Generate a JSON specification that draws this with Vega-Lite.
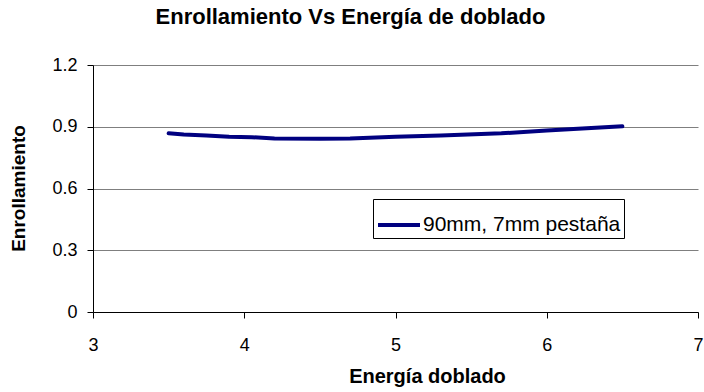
{
  "$schema": "https://vega.github.io/schema/vega-lite/v6.json",
  "autosize": "none",
  "width": 605,
  "height": 247,
  "padding": {"left": 93, "top": 65, "right": 6, "bottom": 80},
  "background": "white",
  "config": {
    "view": {"stroke": null},
    "font": "Liberation Sans"
  },
  "title": {
    "text": "Enrollamiento Vs Energía de doblado",
    "font": "Liberation Sans",
    "fontSize": 22,
    "fontWeight": "bold",
    "color": "black",
    "anchor": "middle",
    "dx": -45,
    "offset": 27
  },
  "data": {
    "values": [
      {"energia": 3.5, "enrollamiento": 0.868, "serie": "90mm, 7mm pestaña"},
      {"energia": 3.6, "enrollamiento": 0.862, "serie": "90mm, 7mm pestaña"},
      {"energia": 3.75, "enrollamiento": 0.858, "serie": "90mm, 7mm pestaña"},
      {"energia": 3.9, "enrollamiento": 0.851, "serie": "90mm, 7mm pestaña"},
      {"energia": 4.05, "enrollamiento": 0.849, "serie": "90mm, 7mm pestaña"},
      {"energia": 4.2, "enrollamiento": 0.843, "serie": "90mm, 7mm pestaña"},
      {"energia": 4.5, "enrollamiento": 0.842, "serie": "90mm, 7mm pestaña"},
      {"energia": 4.7, "enrollamiento": 0.843, "serie": "90mm, 7mm pestaña"},
      {"energia": 5.0, "enrollamiento": 0.851, "serie": "90mm, 7mm pestaña"},
      {"energia": 5.3, "enrollamiento": 0.858, "serie": "90mm, 7mm pestaña"},
      {"energia": 5.7, "enrollamiento": 0.868, "serie": "90mm, 7mm pestaña"},
      {"energia": 6.0, "enrollamiento": 0.882, "serie": "90mm, 7mm pestaña"},
      {"energia": 6.5, "enrollamiento": 0.902, "serie": "90mm, 7mm pestaña"}
    ]
  },
  "mark": {"type": "line", "strokeWidth": 4, "strokeCap": "round", "strokeJoin": "round"},
  "encoding": {
    "x": {
      "field": "energia",
      "type": "quantitative",
      "scale": {"domain": [3, 7], "nice": false, "zero": false},
      "axis": {
        "title": "Energía doblado",
        "titleFont": "Liberation Sans",
        "titleFontSize": 20,
        "titleFontWeight": "bold",
        "titleColor": "black",
        "titleX": 334,
        "titleY": 64,
        "titleBaseline": "middle",
        "titleAlign": "center",
        "values": [3, 4, 5, 6, 7],
        "format": "d",
        "grid": false,
        "domainColor": "black",
        "domainWidth": 1,
        "tickColor": "black",
        "tickSize": 6,
        "labelFont": "Liberation Sans",
        "labelFontSize": 18,
        "labelColor": "black",
        "labelPadding": 18,
        "labelFlush": false,
        "labelOverlap": false
      }
    },
    "y": {
      "field": "enrollamiento",
      "type": "quantitative",
      "scale": {"domain": [0, 1.2], "nice": false},
      "axis": {
        "title": "Enrollamiento",
        "titleFont": "Liberation Sans",
        "titleFontSize": 19,
        "titleFontWeight": "bold",
        "titleColor": "black",
        "titleAngle": -90,
        "titleX": -75,
        "titleY": 123,
        "titleBaseline": "middle",
        "titleAlign": "center",
        "values": [0, 0.3, 0.6, 0.9, 1.2],
        "format": ".1~f",
        "grid": true,
        "gridColor": "#7f7f7f",
        "gridWidth": 1,
        "gridOpacity": 1,
        "domainColor": "black",
        "domainWidth": 1,
        "tickColor": "black",
        "tickSize": 6,
        "labelFont": "Liberation Sans",
        "labelFontSize": 18,
        "labelColor": "black",
        "labelPadding": 10,
        "labelFlush": false,
        "labelOverlap": false
      }
    },
    "color": {
      "field": "serie",
      "type": "nominal",
      "scale": {"range": ["#000080"]},
      "legend": {
        "title": null,
        "orient": "none",
        "legendX": 280,
        "legendY": 134,
        "direction": "vertical",
        "symbolType": "stroke",
        "symbolSize": 1764,
        "symbolStrokeWidth": 4,
        "labelFont": "Liberation Sans",
        "labelFontSize": 21,
        "labelColor": "black",
        "labelOffset": 1,
        "labelLimit": 400,
        "padding": 3,
        "strokeColor": "black",
        "fillColor": "white"
      }
    }
  }
}
